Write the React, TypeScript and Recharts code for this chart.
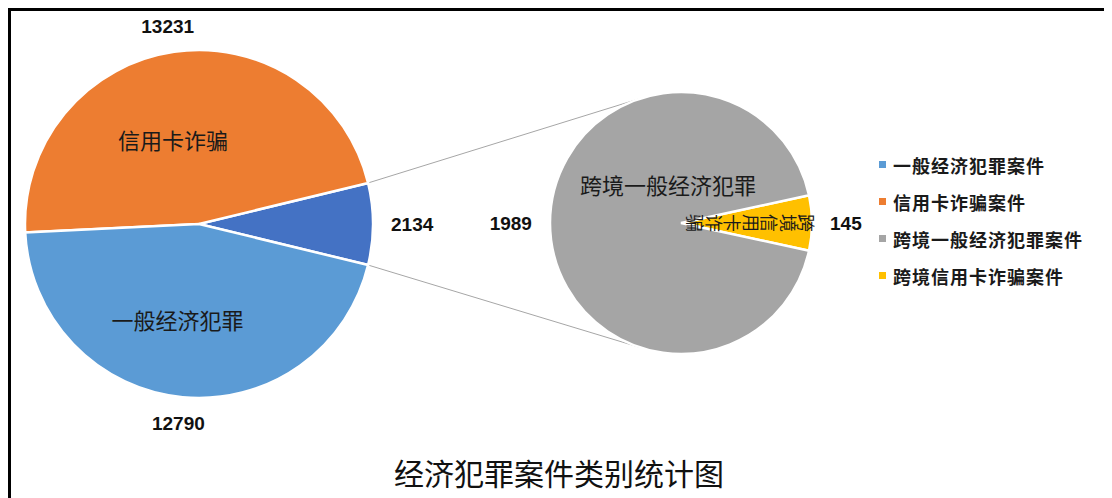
import React from "react"
import { PieChart, Pie, Cell } from "recharts"

// main pie: first slice is the one split out into the small pie
const MAIN_NAMES = ["跨境案件", "信用卡诈骗", "一般经济犯罪"]
const MAIN_VALUES = [2134, 13231, 12790]
const MAIN_COLORS = ["#4472C4", "#ED7D31", "#5B9BD5"]

// secondary pie: first slice is the small one centred on the right
const SUB_NAMES = ["跨境信用卡诈骗", "跨境一般经济犯罪"]
const SUB_VALUES = [145, 1989]
const SUB_COLORS = ["#FFC000", "#A5A5A5"]

const LEGEND_LABELS = ["一般经济犯罪案件", "信用卡诈骗案件", "跨境一般经济犯罪案件", "跨境信用卡诈骗案件"]
const LEGEND_COLORS = ["#5B9BD5", "#ED7D31", "#A5A5A5", "#FFC000"]

const TITLE = "经济犯罪案件类别统计图"

const W = 1104
const H = 490
const RADIAN = Math.PI / 180

const MAIN = { cx: 191, cy: 216, r: 174 }
const SUB = { cx: 673, cy: 215, r: 131 }
const CONNECTOR_ANGLE = 108

const CJK = "'Noto Sans CJK SC', 'Noto Sans', sans-serif"
const NUM = "'Liberation Sans', 'Noto Sans', sans-serif"

const mainData = MAIN_NAMES.map((name, i) => ({ name, value: MAIN_VALUES[i] }))
const subData = SUB_NAMES.map((name, i) => ({ name, value: SUB_VALUES[i] }))

const sum = (arr: number[]) => arr.reduce((a, b) => a + b, 0)
const mainStart = -((MAIN_VALUES[0] / sum(MAIN_VALUES)) * 360) / 2
const subStart = -((SUB_VALUES[0] / sum(SUB_VALUES)) * 360) / 2

function polar(cx: number, cy: number, r: number, angle: number) {
  return { x: cx + r * Math.cos(-angle * RADIAN), y: cy + r * Math.sin(-angle * RADIAN) }
}

function valueLabel(cx: number, cy: number, r: number, midAngle: number, value: number) {
  const dx = Math.cos(-midAngle * RADIAN)
  const dy = Math.sin(-midAngle * RADIAN)
  const w = String(value).length * 10.6
  const h = 16
  const x = cx + (r + 18) * dx + (dx * w) / 2
  const y = cy + (r + 18) * dy + (dy * h) / 2
  return (
    <text
      x={x}
      y={y}
      textAnchor="middle"
      dominantBaseline="central"
      fontFamily={NUM}
      fontWeight={700}
      fontSize={19}
      fill="#111"
    >
      {value}
    </text>
  )
}

function renderMainLabel(props: any) {
  const { cx, cy, midAngle, outerRadius, value, name, index } = props
  const p = polar(cx, cy, outerRadius * 0.52, midAngle)
  return (
    <g key={`ml-${index}`}>
      {valueLabel(cx, cy, outerRadius, midAngle, value)}
      {index > 0 && (
        <text
          x={p.x - outerRadius * 0.075}
          y={p.y + 5}
          textAnchor="middle"
          dominantBaseline="central"
          fontFamily={CJK}
          fontSize={22}
          fill="#1a1a1a"
        >
          {name}
        </text>
      )}
    </g>
  )
}

function renderSubLabel(props: any) {
  const { cx, cy, midAngle, outerRadius, value, name, index } = props
  if (index === 0) {
    // small slice: name written along the radius, glyphs turned a quarter
    const chars = String(name).split("")
    const c = polar(cx, cy, outerRadius * 0.54, midAngle)
    const step = 18.5
    return (
      <g key={`sl-${index}`}>
        {chars.map((ch, i) => {
          const x = c.x + ((chars.length - 1) / 2 - i) * step
          return (
            <text
              key={i}
              x={x}
              y={c.y}
              textAnchor="middle"
              dominantBaseline="central"
              fontFamily={CJK}
              fontSize={18}
              fill="#1a1a1a"
              transform={`rotate(90 ${x} ${c.y})`}
            >
              {ch}
            </text>
          )
        })}
        {valueLabel(cx, cy, outerRadius, midAngle, value)}
      </g>
    )
  }
  return (
    <g key={`sl-${index}`}>
      {valueLabel(cx, cy, outerRadius, midAngle, value)}
      <text
        x={cx - outerRadius * 0.1}
        y={cy - outerRadius * 0.3}
        textAnchor="middle"
        dominantBaseline="central"
        fontFamily={CJK}
        fontSize={22}
        fill="#1a1a1a"
      >
        {name}
      </text>
    </g>
  )
}

export default function App() {
  // connectors run from the edges of the split slice to the small pie
  const pTop = polar(MAIN.cx, MAIN.cy, MAIN.r, -mainStart)
  const pBot = polar(MAIN.cx, MAIN.cy, MAIN.r, mainStart)
  const qTop = polar(SUB.cx, SUB.cy, SUB.r, CONNECTOR_ANGLE)
  const qBot = polar(SUB.cx, SUB.cy, SUB.r, -CONNECTOR_ANGLE)

  return (
    <div style={{ position: "relative", width: W, height: H, background: "#fff" }}>
      <div
        style={{
          position: "absolute",
          left: 0,
          top: 0,
          width: W,
          height: H,
          borderTop: "3px solid #000",
          borderLeft: "3px solid #000",
          boxSizing: "border-box",
        }}
      />
      <svg width={W} height={H} style={{ position: "absolute", left: 0, top: 0 }}>
        <line x1={pTop.x} y1={pTop.y} x2={qTop.x} y2={qTop.y} stroke="#a6a6a6" strokeWidth={1} />
        <line x1={pBot.x} y1={pBot.y} x2={qBot.x} y2={qBot.y} stroke="#a6a6a6" strokeWidth={1} />
      </svg>
      <div style={{ position: "absolute", left: 0, top: 0 }}>
        <PieChart width={W} height={H} margin={{ top: 0, right: 0, bottom: 0, left: 0 }}>
          <Pie
            data={mainData}
            dataKey="value"
            nameKey="name"
            cx={MAIN.cx}
            cy={MAIN.cy}
            outerRadius={MAIN.r}
            startAngle={mainStart}
            endAngle={mainStart + 360}
            stroke="#fff"
            strokeWidth={2.5}
            label={renderMainLabel}
            labelLine={false}
            isAnimationActive={false}
          >
            {MAIN_COLORS.map((c, i) => (
              <Cell key={i} fill={c} />
            ))}
          </Pie>
          <Pie
            data={subData}
            dataKey="value"
            nameKey="name"
            cx={SUB.cx}
            cy={SUB.cy}
            outerRadius={SUB.r}
            startAngle={subStart}
            endAngle={subStart + 360}
            stroke="#fff"
            strokeWidth={2.5}
            label={renderSubLabel}
            labelLine={false}
            isAnimationActive={false}
          >
            {SUB_COLORS.map((c, i) => (
              <Cell key={i} fill={c} />
            ))}
          </Pie>
        </PieChart>
      </div>
      <svg width={W} height={H} style={{ position: "absolute", left: 0, top: 0, pointerEvents: "none" }}>
        {LEGEND_LABELS.map((label, i) => (
          <g key={label}>
            <rect x={871} y={153 + i * 37} width={7} height={7} fill={LEGEND_COLORS[i]} />
            <text
              x={885}
              y={157 + i * 37}
              dominantBaseline="central"
              fontFamily={CJK}
              fontWeight={700}
              fontSize={18}
              letterSpacing={1}
              fill="#1a1a1a"
            >
              {label}
            </text>
          </g>
        ))}
        <text
          x={551}
          y={464}
          textAnchor="middle"
          dominantBaseline="central"
          fontFamily={CJK}
          fontSize={30}
          fill="#111"
        >
          {TITLE}
        </text>
      </svg>
    </div>
  )
}
